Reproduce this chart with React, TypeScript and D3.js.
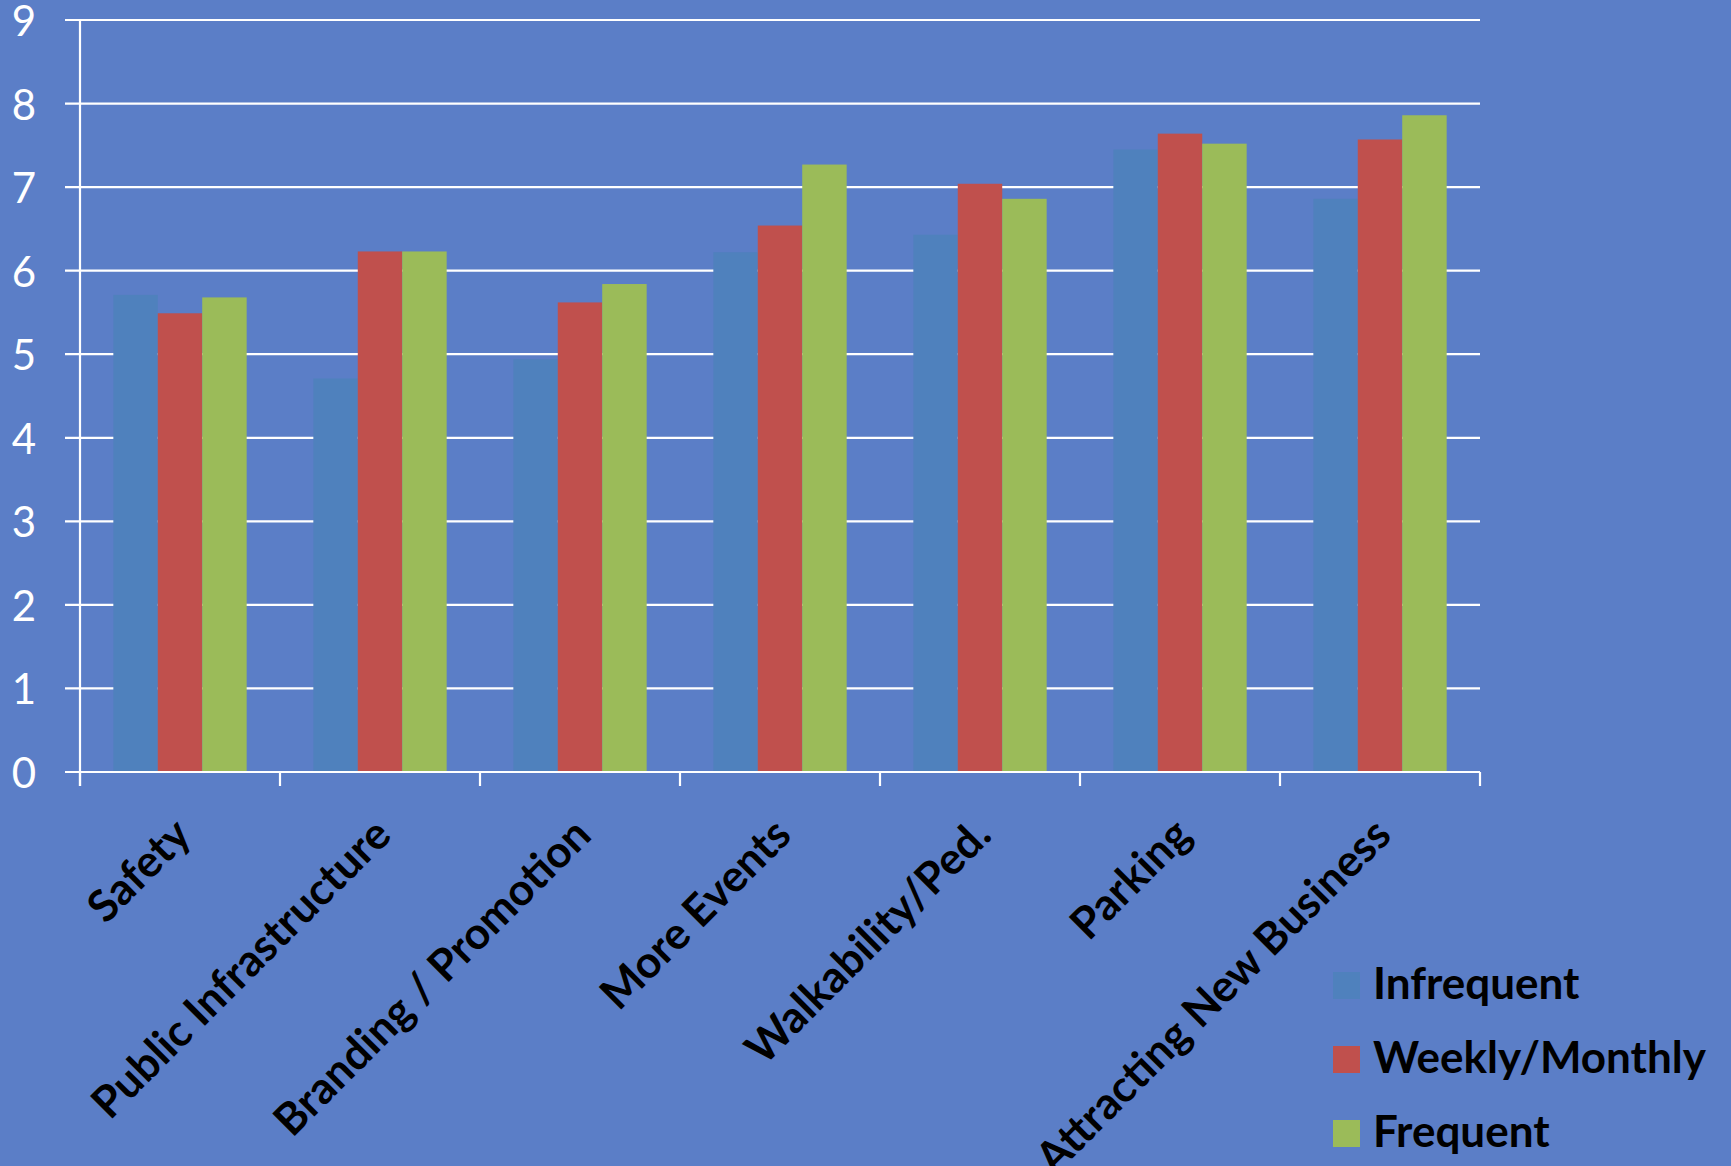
import React from "react";
import * as d3 from "d3";

const categories = [
  "Safety",
  "Public Infrastructure",
  "Branding / Promotion",
  "More Events",
  "Walkability/Ped.",
  "Parking",
  "Attracting New Business",
];
const seriesNames = ["Infrequent", "Weekly/Monthly", "Frequent"];
const infrequent = [5.71, 4.71, 4.94, 6.22, 6.43, 7.45, 6.86];
const weeklyMonthly = [5.49, 6.23, 5.62, 6.54, 7.04, 7.64, 7.57];
const frequent = [5.68, 6.23, 5.84, 7.27, 6.86, 7.52, 7.86];
const yTicks = [0, 1, 2, 3, 4, 5, 6, 7, 8, 9];
const seriesColors = ["#4F81BD", "#C0504D", "#9BBB59"];

const W = 1731;
const H = 1166;
const BG = "#5B7EC7";

export default function App() {
  const seriesValues = [infrequent, weeklyMonthly, frequent];
  const x0 = d3.scaleBand<string>().domain(categories).range([80, 1480]).padding(0);
  const x1 = d3
    .scaleBand<string>()
    .domain(seriesNames)
    .range([0, x0.bandwidth()])
    .paddingInner(0)
    .paddingOuter(0.75);
  const y = d3.scaleLinear().domain([0, 9]).range([772, 20]);
  const font = "Lato, 'Open Sans', sans-serif";
  const boundaries = categories.map((c) => x0(c) as number).concat([x0.range()[1]]);

  return (
    <svg
      width={W}
      height={H}
      style={{ position: "absolute", left: 0, top: 0, display: "block" }}
    >
      <rect x={0} y={0} width={W} height={H} fill={BG} />
      {/* gridlines */}
      {yTicks.map((t) => (
        <line
          key={"g" + t}
          x1={65}
          x2={x0.range()[1]}
          y1={y(t)}
          y2={y(t)}
          stroke="#fff"
          strokeWidth={2.2}
        />
      ))}
      {/* bars */}
      {categories.map((c, i) => (
        <g key={c} transform={`translate(${x0(c)},0)`}>
          {seriesNames.map((s, j) => (
            <rect
              key={s}
              x={x1(s)}
              y={y(seriesValues[j][i])}
              width={x1.bandwidth()}
              height={y(0) - y(seriesValues[j][i])}
              fill={seriesColors[j]}
            />
          ))}
        </g>
      ))}
      {/* axes */}
      <line x1={80} x2={80} y1={y(9)} y2={y(0) + 14} stroke="#fff" strokeWidth={2.2} />
      <line x1={65} x2={x0.range()[1]} y1={y(0)} y2={y(0)} stroke="#fff" strokeWidth={2.2} />
      {boundaries.map((b, i) => (
        <line key={"t" + i} x1={b} x2={b} y1={y(0)} y2={y(0) + 14} stroke="#fff" strokeWidth={2.2} />
      ))}
      {yTicks.map((t) => (
        <text
          key={"yl" + t}
          x={36}
          y={y(t)}
          textAnchor="end"
          dominantBaseline="central"
          fill="#fff"
          fontFamily={font}
          fontSize={42}
        >
          {t}
        </text>
      ))}
      {categories.map((c) => {
        const cx = (x0(c) as number) + x0.bandwidth() / 2 - 9;
        const cy = 815;
        return (
          <text
            key={"xl" + c}
            x={cx}
            y={cy}
            dy="0.72em"
            textAnchor="end"
            transform={`rotate(-45 ${cx} ${cy})`}
            fill="#000"
            fontFamily={font}
            fontWeight="bold"
            fontSize={44}
          >
            {c}
          </text>
        );
      })}
      {/* legend */}
      {seriesNames.map((s, j) => (
        <g key={"lg" + s} transform={`translate(1333, ${972 + j * 74})`}>
          <rect x={0} y={0} width={27} height={27} fill={seriesColors[j]} />
          <text x={40} y={27} fill="#000" fontFamily={font} fontWeight="bold" fontSize={44}>
            {s}
          </text>
        </g>
      ))}
    </svg>
  );
}
